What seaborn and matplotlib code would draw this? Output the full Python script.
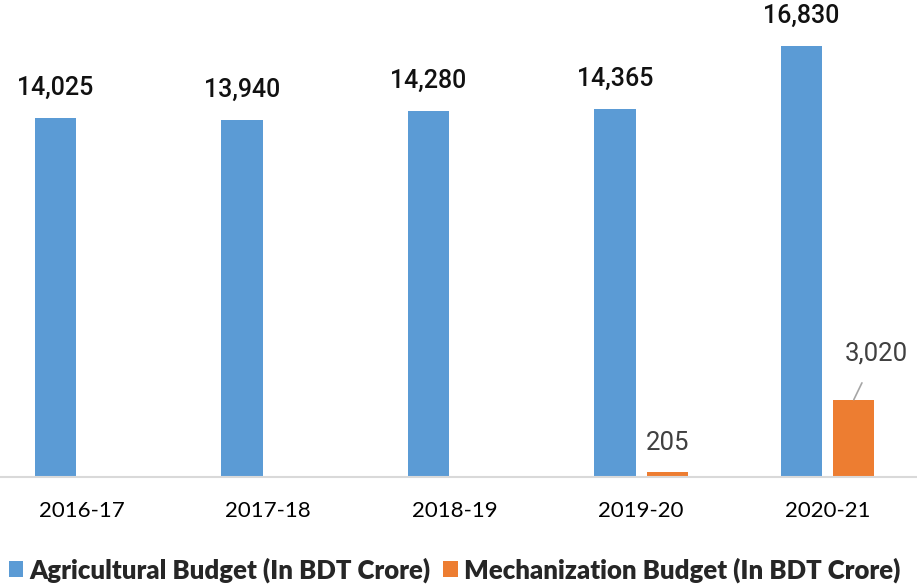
import numpy as np
import pandas as pd
import matplotlib
matplotlib.use("Agg")
import matplotlib.pyplot as plt
import seaborn as sns

# data
years = ["2016-17", "2017-18", "2018-19", "2019-20", "2020-21"]
agri_budget = [14025, 13940, 14280, 14365, 16830]
mech_budget = [0, 0, 0, 205, 3020]
series_names = ["Agricultural Budget (In BDT Crore)", "Mechanization Budget (In BDT Crore)"]
colors = ["#5B9BD5", "#ED7D31"]

df = pd.DataFrame({
    "Year": years * 2,
    "Series": [series_names[0]] * len(years) + [series_names[1]] * len(years),
    "Value": agri_budget + mech_budget,
})

sns.set_theme(style="white")
plt.rcParams["font.family"] = ["Lato", "DejaVu Sans"]

fig = plt.figure(figsize=(9.17, 5.84), dpi=100)
ax = fig.add_axes([-0.0127, 0.1832, 1.017, 0.8168])

sns.barplot(data=df, x="Year", y="Value", hue="Series", palette=colors, saturation=1,
            width=0.56, gap=0.21, linewidth=0, ax=ax, legend=True, errorbar=None)

ax.set_ylim(0, 18625)
ax.set_xlim(-0.5, 4.5)
ax.set_xlabel("")
ax.set_ylabel("")
ax.set_yticks([])
for side in ["top", "left", "right"]:
    ax.spines[side].set_visible(False)
ax.spines["bottom"].set_color("#D9D9D9")
ax.spines["bottom"].set_linewidth(1.5)
ax.tick_params(axis="x", length=0, pad=17, labelsize=16, colors="#000000")

# value labels
num_font = ["Roboto", "DejaVu Sans"]
for bar, v in zip(ax.containers[0], agri_budget):
    x = bar.get_x() + bar.get_width() / 2
    ax.annotate(f"{v:,}", (x, v), xytext=(0, 13), textcoords="offset points",
                ha="center", va="bottom", fontsize=18, fontweight="medium",
                family=num_font, color="#111111")

for bar, v in zip(ax.containers[1], mech_budget):
    if v <= 0:
        continue
    x = bar.get_x() + bar.get_width() / 2
    if v > 1000:
        ax.annotate(f"{v:,}", (x, v), xytext=(16, 33), textcoords="offset points",
                    ha="center", va="center", fontsize=18.5, family=num_font, color="#404040",
                    arrowprops=dict(arrowstyle="-", color="#A6A6A6", lw=1.2,
                                    shrinkA=11, shrinkB=0))
    else:
        ax.annotate(f"{v:,}", (x, v), xytext=(0, 12), textcoords="offset points",
                    ha="center", va="bottom", fontsize=18.5, family=num_font, color="#404040")

leg = ax.legend(loc="lower center", bbox_to_anchor=(0.5, -0.27), ncol=2, frameon=False,
                handlelength=0.55, handleheight=0.55, handletextpad=0.25, columnspacing=0.5,
                prop={"size": 18.5, "weight": "heavy"}, bbox_transform=ax.transAxes)

fig.savefig("out.png", dpi=100)
